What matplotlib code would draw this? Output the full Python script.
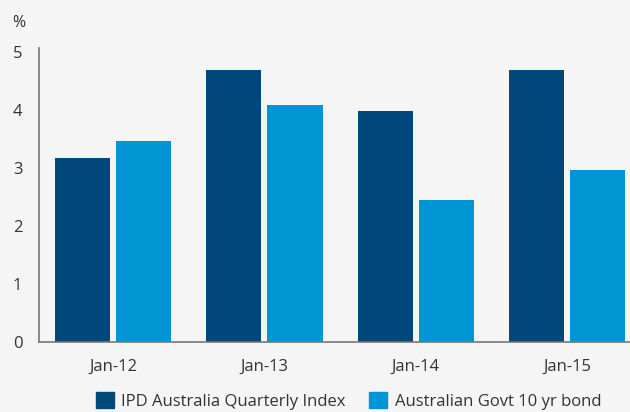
import matplotlib
matplotlib.use("Agg")
from matplotlib import pyplot as plt
from matplotlib.patches import Patch
import numpy as np

categories = ["Jan-12", "Jan-13", "Jan-14", "Jan-15"]
ipd_index = [3.18, 4.69, 3.99, 4.69]
govt_bond = [3.47, 4.09, 2.46, 2.97]
series_names = ["IPD Australia Quarterly Index", "Australian Govt 10 yr bond"]

dark = "#00487A"
light = "#0096D6"
txt = "#333333"
bg = "#F5F5F5"

plt.rcParams['font.family'] = ['Open Sans', 'DejaVu Sans']

fig = plt.figure(figsize=(6.3, 4.12), dpi=100, facecolor=bg)
ax = fig.add_axes([0.062, 0.169, 0.938, 0.714], facecolor=bg)

x = np.arange(len(categories))
w = 0.364
ax.bar(x - 0.202, ipd_index, w, color=dark)
ax.bar(x + 0.202, govt_bond, w, color=light)

ax.set_xlim(-0.49, 3.417)
ax.set_ylim(0, 5.07)
ax.set_yticks(range(6))
ax.set_xticks(x)
ax.set_xticklabels(categories)
ax.tick_params(axis="both", length=0, labelsize=12, colors=txt)
ax.tick_params(axis="x", pad=12)
ax.tick_params(axis="y", pad=12)

for s in ["top", "right"]:
    ax.spines[s].set_visible(False)
for s in ["left", "bottom"]:
    ax.spines[s].set_color("#777777")
    ax.spines[s].set_linewidth(1.2)

fig.text(0.019, 0.935, "%", fontsize=11.5, color=txt)

handles = [Patch(color=dark), Patch(color=light)]
fig.legend(handles, series_names, loc="center", bbox_to_anchor=(0.553, 0.027),
           ncol=2, frameon=False, fontsize=12, labelcolor=txt,
           handlelength=1.08, handleheight=1.08, handletextpad=0.45,
           columnspacing=1.4, borderaxespad=0)

fig.savefig("out.png", dpi=100, facecolor=bg)
